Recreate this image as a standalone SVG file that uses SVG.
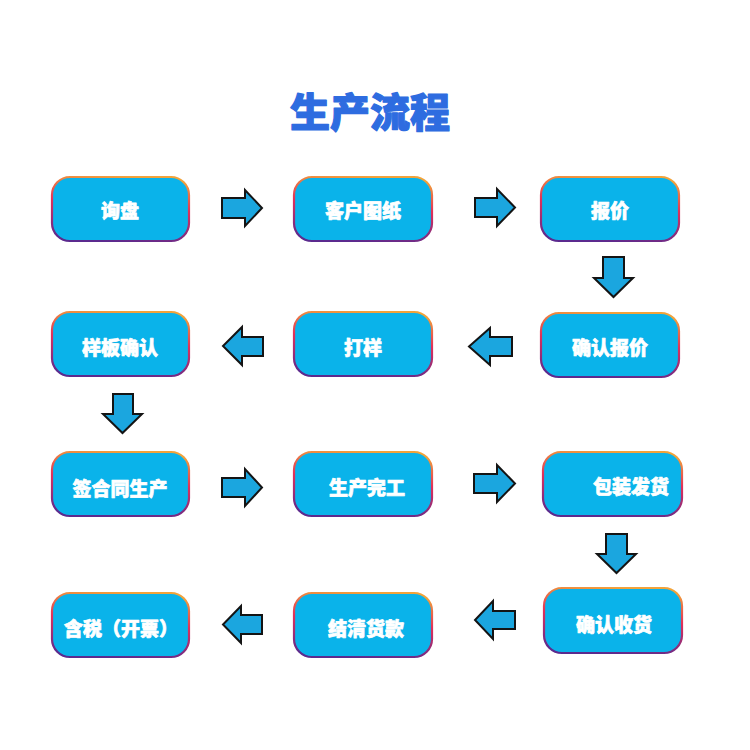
<svg xmlns="http://www.w3.org/2000/svg" width="750" height="750" viewBox="0 0 750 750">
<defs>
<linearGradient id="bd" x1="0.6" y1="0" x2="0.4" y2="1">
<stop offset="0" stop-color="#F2A33A"/>
<stop offset="0.45" stop-color="#E0305A"/>
<stop offset="1" stop-color="#5B2A8E"/>
</linearGradient>
<style>
.box{fill:#0AB3EA;stroke:url(#bd);stroke-width:2.2}
.lbl{font-family:"Noto Sans CJK SC","Noto Sans CJK JP",sans-serif;font-weight:900;font-size:19px;fill:#FFFFFF;stroke:#FFFFFF;stroke-width:0.7;stroke-linejoin:round;text-anchor:middle;dominant-baseline:central}
.arr{fill:#1BA6DF;stroke:#141414;stroke-width:2;stroke-linejoin:miter}
.title{font-family:"Noto Sans CJK SC","Noto Sans CJK JP",sans-serif;font-weight:900;font-size:40px;fill:#2E6CE0;stroke:#2E6CE0;stroke-width:1.2;stroke-linejoin:round;text-anchor:middle;dominant-baseline:central}
</style>
</defs>
<rect width="750" height="750" fill="#FFFFFF"/>
<text class="title" x="370" y="110">生产流程</text>

<g id="n1"><rect class="box" x="52" y="177" width="137" height="64" rx="18"/><text class="lbl" x="120" y="209">询盘</text></g>
<g id="n2"><rect class="box" x="294" y="177" width="138" height="64" rx="18"/><text class="lbl" x="363" y="209">客户图纸</text></g>
<g id="n3"><rect class="box" x="541" y="177" width="138" height="64" rx="18"/><text class="lbl" x="610" y="209">报价</text></g>
<g id="n4"><rect class="box" x="541" y="313" width="138" height="64" rx="18"/><text class="lbl" x="610" y="346">确认报价</text></g>
<g id="n5"><rect class="box" x="294" y="312" width="138" height="64" rx="18"/><text class="lbl" x="363" y="346">打样</text></g>
<g id="n6"><rect class="box" x="52" y="312" width="137" height="64" rx="18"/><text class="lbl" x="120" y="346">样板确认</text></g>
<g id="n7"><rect class="box" x="52" y="452" width="137" height="64" rx="18"/><text class="lbl" x="120" y="487">签合同生产</text></g>
<g id="n8"><rect class="box" x="294" y="452" width="138" height="64" rx="18"/><text class="lbl" x="367" y="486">生产完工</text></g>
<g id="n9"><rect class="box" x="543" y="452" width="139" height="64" rx="18"/><text class="lbl" x="631" y="485">包装发货</text></g>
<g id="n10"><rect class="box" x="544" y="588" width="138" height="65" rx="18"/><text class="lbl" x="614" y="623">确认收货</text></g>
<g id="n11"><rect class="box" x="294" y="593" width="138" height="64" rx="18"/><text class="lbl" x="366" y="627">结清货款</text></g>
<g id="n12"><rect class="box" x="52" y="593" width="137" height="64" rx="18"/><text class="lbl" x="121" y="627">含税（开票）</text></g>

<g id="connectors">
<polygon class="arr" points="222,198 245,198 245,190 262,208 245,226 245,218 222,218"/>
<polygon class="arr" points="475,198 497,198 497,189 515,207.5 497,226 497,217 475,217"/>
<polygon class="arr" points="222,478 245,478 245,469 262,487.5 245,506 245,497 222,497"/>
<polygon class="arr" points="474,474 497,474 497,465 515,483.5 497,502 497,493 474,493"/>
<polygon class="arr" points="603,257 624,257 624,278 633,278 613.5,297 594,278 603,278"/>
<polygon class="arr" points="113,394 133,394 133,414 142,414 122.5,433 103,414 113,414"/>
<polygon class="arr" points="606,534 627,534 627,554 636,554 616.5,573 597,554 606,554"/>
<polygon class="arr" points="512,337 490,337 490,328 469,346.5 490,365 490,356 512,356"/>
<polygon class="arr" points="263,337 242,337 242,327 223,346 242,365 242,356 263,356"/>
<polygon class="arr" points="515,611 493,611 493,601 475,620 493,639 493,629 515,629"/>
<polygon class="arr" points="262,615 241,615 241,606 223,624.5 241,643 241,634 262,634"/>
</g>
</svg>
